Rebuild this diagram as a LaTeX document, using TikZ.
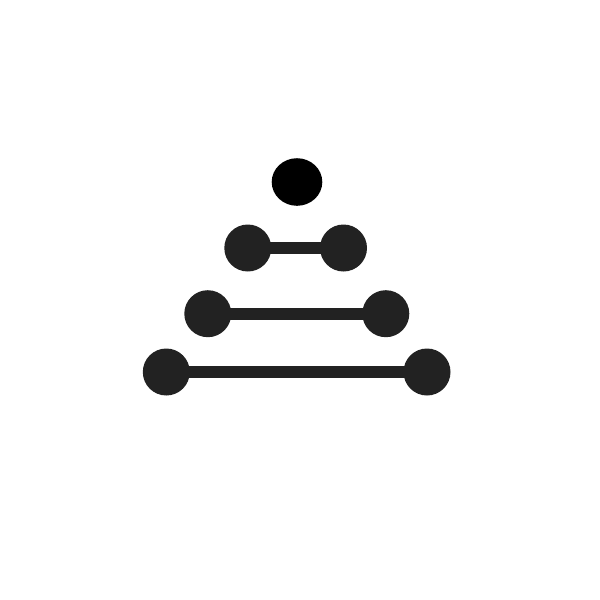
\documentclass[tikz,border=0pt]{standalone}
\usepackage{tikz}
\usetikzlibrary{positioning,shapes.geometric}

\definecolor{dotgray}{HTML}{222222}

\begin{document}
\begin{tikzpicture}[x=1pt,y=-1pt,
		dot/.style = {circle, fill = dotgray, inner sep = 0pt, minimum size = 47pt},
		bar/.style = {line width = 11.7pt, draw = dotgray, shorten <= -8pt, shorten >= -8pt}]
		\useasboundingbox (0,0) rectangle (600,600);
		\node [ellipse, fill = black, inner sep = 0pt, minimum width = 50.6pt, minimum height = 47.6pt](top) at (297,182) {};
		\node [dot](a1) at (247.8,248) {};
		\node [dot](a2) at (343.5,248) {};
		\draw [bar] (a1) -- (a2);
		\node [dot](b1) at (207.8,313.7) {};
		\node [dot](b2) at (385.8,313.7) {};
		\draw [bar] (b1) -- (b2);
		\node [dot](c1) at (166.3,372) {};
		\node [dot](c2) at (427,372) {};
		\draw [bar] (c1) -- (c2);
		\end{tikzpicture}
\end{document}
